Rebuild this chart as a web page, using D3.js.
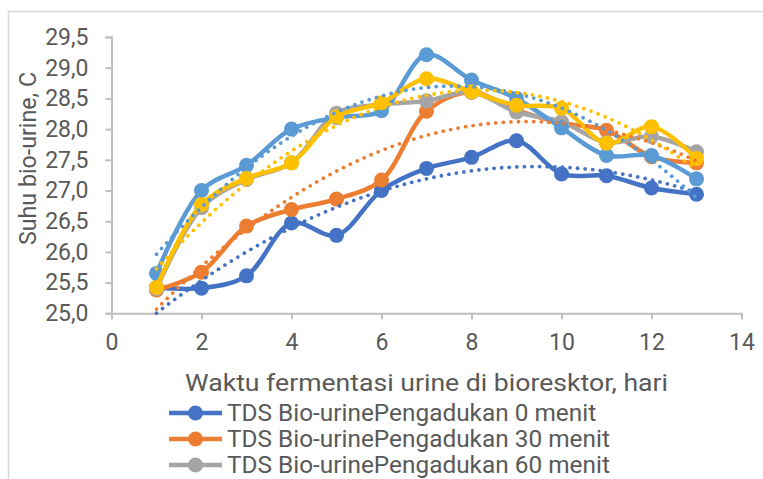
<!DOCTYPE html>
<html><head><meta charset="utf-8">
<script src="https://cdn.jsdelivr.net/npm/d3@7/dist/d3.min.js"></script>
<style>body{margin:0;background:#fff}svg{display:block}text{font-family:Roboto,"Noto Sans",sans-serif;fill:#595959}</style>
</head><body>
<svg id="c" width="763" height="479"></svg>
<script>
const days = [1,2,3,4,5,6,7,8,9,10,11,12,13];
const seriesNames = [
  "TDS Bio-urinePengadukan 0 menit",
  "TDS Bio-urinePengadukan 30 menit",
  "TDS Bio-urinePengadukan 60 menit",
  "TDS Bio-urinePengadukan 90 menit",
  "TDS Bio-urinePengadukan 120 menit"
];
const s0 = [25.42,25.41,25.61,26.47,26.27,27.0,27.36,27.54,27.81,27.27,27.24,27.04,26.94];
const s30 = [25.38,25.67,26.42,26.69,26.86,27.17,28.29,28.6,28.31,28.1,27.98,27.55,27.45];
const s60 = [25.4,26.72,27.18,27.45,28.26,28.4,28.46,28.6,28.28,28.12,27.78,27.88,27.63];
const s90 = [25.42,26.77,27.2,27.45,28.2,28.43,28.82,28.61,28.39,28.34,27.77,28.04,27.52];
const s120 = [25.65,27.0,27.41,28.0,28.19,28.3,29.21,28.8,28.5,28.02,27.57,27.57,27.19];
const yTicks = [25.0,25.5,26.0,26.5,27.0,27.5,28.0,28.5,29.0,29.5];
const xTicks = [0,2,4,6,8,10,12,14];
const colors = ["#4472C4","#ED7D31","#A5A5A5","#FFC000","#5B9BD5"];

const allSeries = [
  {name:seriesNames[0], values:s0, color:colors[0], trend:true},
  {name:seriesNames[1], values:s30, color:colors[1], trend:true},
  {name:seriesNames[2], values:s60, color:colors[2], trend:false},
  {name:seriesNames[4], values:s120, color:colors[4], trend:true},
  {name:seriesNames[3], values:s90, color:colors[3], trend:true}
];

const svg = d3.select("#c");
svg.append("rect").attr("x",8.5).attr("y",11.5).attr("width",760).attr("height",500)
  .attr("fill","none").attr("stroke","#D9D9D9").attr("stroke-width",1.5);

const x = d3.scaleLinear().domain([0,14]).range([111.5,741.5]);
const y = d3.scaleLinear().domain([25,29.5]).range([313.3,37]);
const fmt = v => d3.format(".1f")(v).replace(".",",");

const gy = svg.append("g").attr("transform","translate(111.5,0)")
  .call(d3.axisLeft(y).tickValues(yTicks).tickFormat(fmt).tickSize(6).tickPadding(17));
const gx = svg.append("g").attr("transform","translate(0,313.3)")
  .call(d3.axisBottom(x).tickValues(xTicks).tickFormat(d3.format("d")).tickSize(6).tickPadding(14));
[gx,gy].forEach(g=>{
  g.select(".domain").attr("stroke","#BFBFBF").attr("stroke-width",2);
  g.selectAll(".tick line").attr("stroke","#BFBFBF").attr("stroke-width",2);
  g.selectAll(".tick text").attr("fill","#595959").style("font-size","23px").style("font-family","Roboto");
});

svg.append("text").attr("x",426.5).attr("y",391).attr("text-anchor","middle")
  .attr("textLength",483).attr("lengthAdjust","spacingAndGlyphs")
  .style("font-size","24px").text("Waktu fermentasi urine di bioresktor, hari");
svg.append("text").attr("transform","translate(36,158.5) rotate(-90)").attr("text-anchor","middle")
  .attr("textLength",173).attr("lengthAdjust","spacingAndGlyphs")
  .style("font-size","23.5px").text("Suhu bio-urine, C");

// polynomial least squares fit (Excel-style polynomial trendline)
function polyfit(xs, ys, order){
  const n = order+1;
  const A = [];
  for(let i=0;i<n;i++){
    const row = [];
    for(let j=0;j<n;j++){ let s=0; for(let k=0;k<xs.length;k++) s+=Math.pow(xs[k],i+j); row.push(s); }
    let t=0; for(let k=0;k<xs.length;k++) t+=Math.pow(xs[k],i)*ys[k];
    row.push(t);
    A.push(row);
  }
  for(let i=0;i<n;i++){
    let p=i;
    for(let r=i+1;r<n;r++){ if(Math.abs(A[r][i])>Math.abs(A[p][i])) p=r; }
    const tmp=A[i]; A[i]=A[p]; A[p]=tmp;
    for(let r=0;r<n;r++){
      if(r===i) continue;
      const f=A[r][i]/A[i][i];
      for(let c=i;c<=n;c++) A[r][c]-=f*A[i][c];
    }
  }
  const out=[]; for(let i=0;i<n;i++) out.push(A[i][n]/A[i][i]);
  return out;
}

const lineG = svg.append("g");
const trendG = svg.append("g");
const line = d3.line().x(d=>x(d[0])).y(d=>y(d[1])).curve(d3.curveCatmullRom);
allSeries.forEach(s=>{
  const pts = days.map((d,i)=>[d,s.values[i]]);
  const g = lineG.append("g");
  g.append("path").datum(pts).attr("d",line).attr("fill","none")
    .attr("stroke",s.color).attr("stroke-width",4.5).attr("stroke-linejoin","round");
  g.selectAll("circle").data(pts).join("circle")
    .attr("cx",d=>x(d[0])).attr("cy",d=>y(d[1])).attr("r",7.5).attr("fill",s.color);
});
allSeries.forEach(s=>{
  if(!s.trend) return;
  const c = polyfit(days, s.values, 2);
  const xs = d3.range(1,13.0001,0.02);
  const pts = xs.map(xv=>[xv, c[0]+c[1]*xv+c[2]*xv*xv]);
  const path = trendG.append("path").datum(pts).attr("d", d3.line().x(d=>x(d[0])).y(d=>y(d[1])))
    .attr("fill","none").attr("stroke","none");
  const node = path.node();
  const L = node.getTotalLength();
  const step = 7.6;
  const dots = d3.range(0, L, step).map(l=>node.getPointAtLength(l));
  trendG.append("g").selectAll("circle").data(dots).join("circle")
    .attr("cx",p=>p.x).attr("cy",p=>p.y).attr("r",1.9).attr("fill",s.color);
});

// legend (only the three entries visible in the frame)
const legendItems = [
  {name:seriesNames[0], color:colors[0]},
  {name:seriesNames[1], color:colors[1]},
  {name:seriesNames[2], color:colors[2]}
];
const lg = svg.append("g");
legendItems.forEach((it,i)=>{
  const cy = 413 + i*26;
  lg.append("line").attr("x1",169).attr("x2",222).attr("y1",cy).attr("y2",cy)
    .attr("stroke",it.color).attr("stroke-width",4.5);
  lg.append("circle").attr("cx",195.5).attr("cy",cy).attr("r",7.5).attr("fill",it.color);
  const t = lg.append("text").attr("x",227).attr("y",cy+8.3).style("font-size","23px").text(it.name);
  const w = t.node().getComputedTextLength();
  t.attr("textLength", w*1.06).attr("lengthAdjust","spacingAndGlyphs");
});
</script>
</body></html>
